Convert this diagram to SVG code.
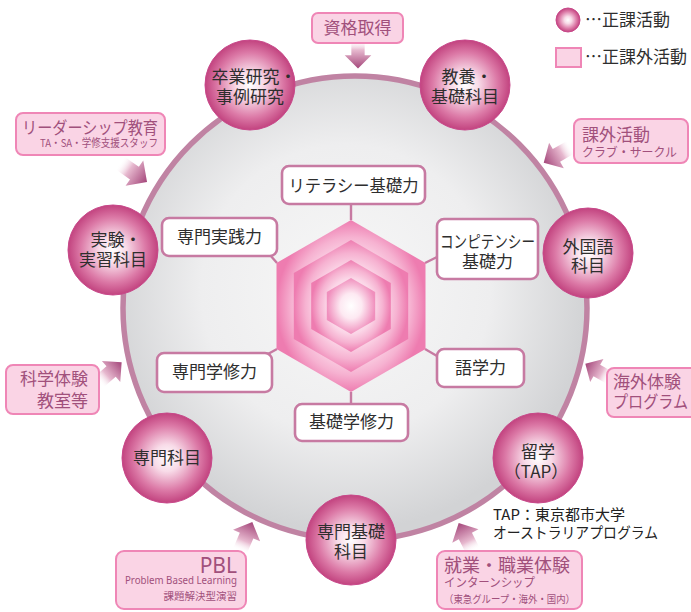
<svg xmlns="http://www.w3.org/2000/svg" xmlns:xlink="http://www.w3.org/1999/xlink" width="691" height="612" viewBox="0 0 691 612">
<defs>
<radialGradient id="bigg" cx="48%" cy="46%" r="52%">
<stop offset="0" stop-color="#f7f7f7"/><stop offset="0.6" stop-color="#eeeeef"/><stop offset="1" stop-color="#d2d3d5"/>
</radialGradient>
<radialGradient id="sph" cx="50%" cy="50%" r="50%">
<stop offset="0" stop-color="#ffffff"/><stop offset="0.3" stop-color="#f8dbe8"/><stop offset="0.72" stop-color="#dc7aa7"/><stop offset="1" stop-color="#c2437f"/>
</radialGradient>
<radialGradient id="hx" cx="50%" cy="50%" r="50%">
<stop offset="0" stop-color="#ffffff"/><stop offset="0.6" stop-color="#fbd6e7"/><stop offset="0.8" stop-color="#f6b2d1"/><stop offset="1" stop-color="#ee7cb0"/>
</radialGradient>
<radialGradient id="hx0" cx="50%" cy="50%" r="50%">
<stop offset="0" stop-color="#ffffff"/><stop offset="0.45" stop-color="#fde9f2"/><stop offset="1" stop-color="#f08fbd"/>
</radialGradient>
<linearGradient id="ag" x1="0" y1="0" x2="1" y2="0">
<stop offset="0" stop-color="#ffffff" stop-opacity="0"/><stop offset="0.35" stop-color="#e7b9cf"/><stop offset="1" stop-color="#a4467a"/>
</linearGradient>
<path id="arr" d="M0,-7 L16,-7 L16,-14 L30,0 L16,14 L16,7 L0,7 Z" fill="url(#ag)"/>
<style>
text{font-family:"Noto Sans CJK JP","Noto Sans",sans-serif;}
.t{font-size:17px;fill:#2e2e2e;text-anchor:middle;}
.box{fill:#ffffff;stroke:#c77aa2;stroke-width:2.6;}
.pb{fill:#fad4e5;stroke:#ef86b6;stroke-width:2;}
.pt{fill:#a1507c;font-size:17px;}
.sp{fill:url(#sph);stroke:#c8488a;stroke-width:1;}
.spoke{stroke:#c77aa2;stroke-width:2.4;}
</style>
</defs>

<g id="background-circle">
<circle cx="355" cy="308" r="232" fill="url(#bigg)" stroke="#c083a3" stroke-width="5.5"/>
</g>

<g id="connectors">
<line class="spoke" x1="351" y1="220" x2="351" y2="204"/>
<line class="spoke" x1="277" y1="263" x2="270" y2="255"/>
<line class="spoke" x1="425" y1="263" x2="437" y2="257"/>
<line class="spoke" x1="425" y1="349" x2="437" y2="356"/>
<line class="spoke" x1="277" y1="349" x2="268" y2="354"/>
<line class="spoke" x1="351" y1="392" x2="351" y2="404"/>
<use xlink:href="#arr" transform="translate(358,40) rotate(90) scale(0.95)"/>
<use xlink:href="#arr" transform="translate(120,163) rotate(35) scale(1.1)"/>
<use xlink:href="#arr" transform="translate(571,147) rotate(150) scale(1.05)"/>
<use xlink:href="#arr" transform="translate(99,382) rotate(-41) scale(1.0)"/>
<use xlink:href="#arr" transform="translate(610,378) rotate(210) scale(0.95)"/>
<use xlink:href="#arr" transform="translate(240,551) rotate(-67) scale(1.05)"/>
<use xlink:href="#arr" transform="translate(473,551) rotate(-117) scale(1.05)"/>
</g>

<g id="hexagon">
<polygon points="351,220 425.5,263 425.5,349 351,392 276.5,349 276.5,263" fill="url(#hx)"/>
<polygon points="351,240 408.2,273 408.2,339 351,372 293.8,339 293.8,273" fill="url(#hx)"/>
<polygon points="351,260 390.8,283 390.8,329 351,352 311.2,329 311.2,283" fill="url(#hx)"/>
<polygon points="351,278 375.2,292 375.2,320 351,334 326.8,320 326.8,292" fill="url(#hx0)"/>
</g>

<g id="literacy">
<rect class="box" x="282" y="166" width="143" height="38" rx="7"/>
<text class="t" x="353.5" y="192" textLength="130" lengthAdjust="spacingAndGlyphs">リテラシー基礎力</text>
</g>
<g id="senmon-jissen">
<rect class="box" x="162" y="218" width="115" height="38" rx="7"/>
<text class="t" x="219.5" y="243">専門実践力</text>
</g>
<g id="competency">
<rect class="box" x="437" y="219" width="101" height="60" rx="7"/>
<text class="t" x="487.5" y="248" textLength="95" lengthAdjust="spacingAndGlyphs">コンピテンシー</text>
<text class="t" x="487.5" y="268">基礎力</text>
</g>
<g id="senmon-gakushu">
<rect class="box" x="157" y="353" width="115" height="39" rx="7"/>
<text class="t" x="214.5" y="378">専門学修力</text>
</g>
<g id="gogaku">
<rect class="box" x="437" y="349" width="87" height="38" rx="7"/>
<text class="t" x="480.5" y="374">語学力</text>
</g>
<g id="kiso-gakushu">
<rect class="box" x="295" y="404" width="113" height="37" rx="7"/>
<text class="t" x="351.5" y="428">基礎学修力</text>
</g>

<g id="sotsugyo">
<circle class="sp" cx="250" cy="85" r="45"/>
<text class="t" x="254" y="83">卒業研究・</text>
<text class="t" x="250" y="103">事例研究</text>
</g>
<g id="kyoyo">
<circle class="sp" cx="465" cy="85" r="45"/>
<text class="t" x="467" y="83">教養・</text>
<text class="t" x="465" y="103">基礎科目</text>
</g>
<g id="gaikokugo">
<circle class="sp" cx="588" cy="253" r="45"/>
<text class="t" x="588" y="253">外国語</text>
<text class="t" x="588" y="272">科目</text>
</g>
<g id="jikken">
<circle class="sp" cx="113" cy="250" r="45"/>
<text class="t" x="116" y="246">実験・</text>
<text class="t" x="113" y="266">実習科目</text>
</g>
<g id="senmon-kamoku">
<circle class="sp" cx="167" cy="458" r="45"/>
<text class="t" x="167" y="464">専門科目</text>
</g>
<g id="senmon-kiso">
<circle class="sp" cx="351" cy="540" r="45"/>
<text class="t" x="351" y="538">専門基礎</text>
<text class="t" x="351" y="558">科目</text>
</g>
<g id="ryugaku">
<circle class="sp" cx="538" cy="458" r="45"/>
<text class="t" x="538" y="458">留学</text>
<text class="t" x="536" y="478">（TAP）</text>
</g>

<g id="tap-note">
<text x="493" y="520" style="font-size:15px;fill:#222" textLength="132" lengthAdjust="spacingAndGlyphs">TAP：東京都市大学</text>
<text x="493" y="538" style="font-size:15px;fill:#222" textLength="165" lengthAdjust="spacingAndGlyphs">オーストラリアプログラム</text>
</g>

<g id="legend">
<circle class="sp" cx="568" cy="20" r="12"/>
<text x="585" y="26" style="font-size:17px;fill:#2e2e2e">…正課活動</text>
<rect x="556" y="48" width="25" height="19" fill="#fad4e5" stroke="#ef86b6" stroke-width="2"/>
<text x="585" y="63" style="font-size:17px;fill:#2e2e2e">…正課外活動</text>
</g>

<g id="shikaku">
<rect class="pb" x="312" y="13" width="91" height="30" rx="6"/>
<text class="pt" x="357.5" y="34" text-anchor="middle">資格取得</text>
</g>
<g id="leadership">
<rect class="pb" x="16" y="113" width="149" height="42" rx="7"/>
<text class="pt" x="158" y="134" text-anchor="end" textLength="136" lengthAdjust="spacingAndGlyphs">リーダーシップ教育</text>
<text class="pt" x="158" y="147" text-anchor="end" style="font-size:11px" textLength="118" lengthAdjust="spacingAndGlyphs">TA・SA・学修支援スタッフ</text>
</g>
<g id="kagai">
<rect class="pb" x="574" y="119" width="114" height="44" rx="7"/>
<text class="pt" x="582" y="141">課外活動</text>
<text class="pt" x="582" y="157" style="font-size:12.5px" textLength="95" lengthAdjust="spacingAndGlyphs">クラブ・サークル</text>
</g>
<g id="kagaku">
<rect class="pb" x="6" y="365" width="93" height="49" rx="7"/>
<text class="pt" x="88" y="385" text-anchor="end">科学体験</text>
<text class="pt" x="88" y="407" text-anchor="end">教室等</text>
</g>
<g id="kaigai">
<rect class="pb" x="607" y="368" width="90" height="49" rx="7"/>
<text class="pt" x="613" y="388">海外体験</text>
<text class="pt" x="613" y="408" textLength="75" lengthAdjust="spacingAndGlyphs">プログラム</text>
</g>
<g id="pbl">
<rect class="pb" x="116" y="551" width="130" height="58" rx="8"/>
<text class="pt" x="237" y="573" text-anchor="end" style="font-size:21px;font-family:'Noto Sans',sans-serif">PBL</text>
<text class="pt" x="237" y="584" text-anchor="end" style="font-size:11px;font-family:'Noto Sans',sans-serif" textLength="112" lengthAdjust="spacingAndGlyphs">Problem Based Learning</text>
<text class="pt" x="237" y="600" text-anchor="end" style="font-size:10.5px">課題解決型演習</text>
</g>
<g id="shugyo">
<rect class="pb" x="437" y="551" width="145" height="58" rx="8"/>
<text class="pt" x="444" y="572" style="font-size:18px">就業・職業体験</text>
<text class="pt" x="444" y="587" style="font-size:12px" textLength="91" lengthAdjust="spacingAndGlyphs">インターンシップ</text>
<text class="pt" x="444" y="603" style="font-size:10.5px" textLength="131" lengthAdjust="spacingAndGlyphs">（東急グループ・海外・国内）</text>
</g>
</svg>
